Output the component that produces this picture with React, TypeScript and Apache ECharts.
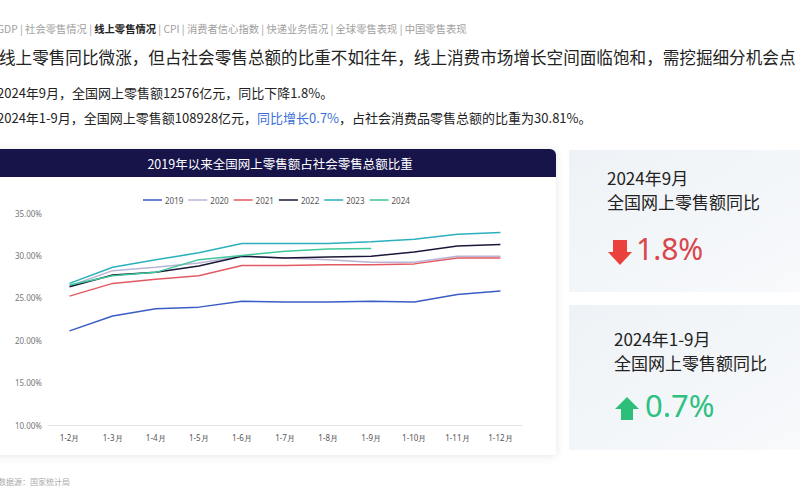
import React, { useEffect, useRef } from "react";
import * as echarts from "echarts";

const categories = ["1-2月", "1-3月", "1-4月", "1-5月", "1-6月", "1-7月", "1-8月", "1-9月", "1-10月", "1-11月", "1-12月"];
const s2019 = [21.1, 22.85, 23.7, 23.9, 24.6, 24.5, 24.5, 24.6, 24.5, 25.4, 25.8];
const s2020 = [26.4, 28.2, 28.6, 29.1, 29.9, 29.7, 29.5, 29.2, 29.2, 29.9, 29.9];
const s2021 = [25.2, 26.7, 27.2, 27.6, 28.8, 28.8, 28.9, 28.9, 29.0, 29.7, 29.7];
const s2022 = [26.3, 27.7, 28.0, 28.75, 29.9, 29.7, 29.8, 29.9, 30.4, 31.1, 31.3];
const s2023 = [26.7, 28.6, 29.5, 30.3, 31.4, 31.4, 31.4, 31.6, 31.9, 32.5, 32.7];
const s2024 = [26.5, 27.6, 28.0, 29.5, 30.0, 30.5, 30.75, 30.81];
const seriesNames = ["2019", "2020", "2021", "2022", "2023", "2024"];
const seriesColors = ["#3b5cc4", "#b9b3d6", "#e35a62", "#1a1838", "#2bb0bd", "#3ec79b"];

const CJK = "'Noto Sans CJK SC', 'Noto Sans', sans-serif";

export default function App() {
  const ref = useRef<HTMLDivElement>(null);
  useEffect(() => {
    document.body.style.margin = "0";
    const chart = echarts.init(ref.current!, null, { renderer: "svg" });
    const data = [s2019, s2020, s2021, s2022, s2023, s2024];
    chart.setOption({
      animation: false,
      backgroundColor: "#ffffff",
      graphic: [
        {
          type: "text", left: -3, top: 23, z: 0,
          style: {
            text: "{a|GDP | 社会零售情况 | }{b|线上零售情况}{a| | CPI | 消费者信心指数 | 快递业务情况 | 全球零售表现 | 中国零售表现}",
            rich: {
              a: { fontSize: 10.3, fill: "#a0a0a0", fontFamily: CJK },
              b: { fontSize: 10.3, fill: "#222", fontWeight: "bold", fontFamily: CJK },
            },
          },
        },
        {
          type: "text", left: -1, top: 49, z: 0,
          style: { text: "线上零售同比微涨，但占社会零售总额的比重不如往年，线上消费市场增长空间面临饱和，需挖掘细分机会点", fontSize: 16.6, fill: "#222", fontFamily: CJK },
        },
        {
          type: "text", left: -3, top: 86, z: 0,
          style: { text: "2024年9月，全国网上零售额12576亿元，同比下降1.8%。", fontSize: 13, fill: "#222", fontFamily: CJK },
        },
        {
          type: "text", left: -3, top: 111, z: 0,
          style: {
            text: "{a|2024年1-9月，全国网上零售额108928亿元，}{b|同比增长0.7%}{a|，占社会消费品零售总额的比重为30.81%。}",
            rich: {
              a: { fontSize: 13, fill: "#222", fontFamily: CJK },
              b: { fontSize: 13, fill: "#3a6fd8", fontFamily: CJK },
            },
          },
        },
        {
          type: "rect", z: 0,
          shape: { x: -10, y: 149, width: 566, height: 306, r: [0, 6, 0, 0] },
          style: { fill: "#ffffff", shadowBlur: 8, shadowColor: "rgba(0,0,0,0.10)", shadowOffsetY: 1 },
        },
        {
          type: "rect", z: 0,
          shape: { x: -10, y: 149, width: 566, height: 28, r: [0, 6, 0, 0] },
          style: { fill: "#17144a" },
        },
        {
          type: "text", x: 280, y: 163, z: 1,
          style: { text: "2019年以来全国网上零售额占社会零售总额比重", fontSize: 12.5, fill: "#ffffff", fontFamily: CJK, align: "center", verticalAlign: "middle" },
        },
        {
          type: "rect", z: 0,
          shape: { x: 569, y: 150, width: 240, height: 142 },
          style: {
            fill: new echarts.graphic.LinearGradient(0, 0, 1, 1, [
              { offset: 0, color: "#eef2f6" },
              { offset: 1, color: "#f8fafc" },
            ]),
          },
        },
        {
          type: "rect", z: 0,
          shape: { x: 569, y: 305, width: 240, height: 145 },
          style: {
            fill: new echarts.graphic.LinearGradient(0, 0, 1, 1, [
              { offset: 0, color: "#eef2f6" },
              { offset: 1, color: "#f8fafc" },
            ]),
          },
        },
        {
          type: "text", left: 607, top: 169, z: 1,
          style: { text: "2024年9月", fontSize: 17, fill: "#222", fontFamily: CJK },
        },
        {
          type: "text", left: 607, top: 193, z: 1,
          style: { text: "全国网上零售额同比", fontSize: 17, fill: "#222", fontFamily: CJK },
        },
        {
          type: "polygon", z: 1,
          shape: { points: [[613, 240], [627, 240], [627, 252], [632, 252], [620, 265], [608, 252], [613, 252]] },
          style: { fill: "#ea413c" },
        },
        {
          type: "text", left: 636, top: 233, z: 1,
          style: { text: "1.8%", fontSize: 30, fill: "#d9464c", fontFamily: "'Noto Sans', sans-serif" },
        },
        {
          type: "text", left: 614, top: 330, z: 1,
          style: { text: "2024年1-9月", fontSize: 17, fill: "#222", fontFamily: CJK },
        },
        {
          type: "text", left: 614, top: 354, z: 1,
          style: { text: "全国网上零售额同比", fontSize: 17, fill: "#222", fontFamily: CJK },
        },
        {
          type: "polygon", z: 1,
          shape: { points: [[627, 397], [639, 409], [633, 409], [633, 420], [621, 420], [621, 409], [615, 409]] },
          style: { fill: "#2dbf7a" },
        },
        {
          type: "text", left: 645, top: 389, z: 1,
          style: { text: "0.7%", fontSize: 31, fill: "#2fc182", fontFamily: "'Noto Sans', sans-serif" },
        },
        {
          type: "text", left: -2, top: 477, z: 1,
          style: { text: "数据源：国家统计局", fontSize: 8, fill: "#aaaaaa", fontFamily: CJK },
        },
      ],
      legend: {
        left: 138, top: 191,
        itemWidth: 19, itemHeight: 8, itemGap: 5,
        icon: "path://M0,3.2 L20,3.2 L20,4.8 L0,4.8 Z",
        textStyle: { fontSize: 8, color: "#555", fontFamily: "'Noto Sans', sans-serif", padding: [0, 0, 0, -2] },
        data: seriesNames,
      },
      grid: { left: 48, right: 278, top: 213, height: 212, containLabel: false },
      xAxis: {
        type: "category",
        data: categories,
        boundaryGap: true,
        axisLine: { lineStyle: { color: "#e6e6e6" } },
        axisTick: { show: false },
        axisLabel: { fontSize: 8, color: "#555", margin: 8, fontFamily: "'Noto Sans', sans-serif" },
      },
      yAxis: {
        type: "value",
        min: 10, max: 35, interval: 5,
        axisLine: { show: false },
        axisTick: { show: false },
        splitLine: { show: false },
        axisLabel: { fontSize: 8, color: "#777", margin: 6, formatter: (v: number) => v.toFixed(2) + "%", fontFamily: "'Noto Sans', sans-serif" },
      },
      series: seriesNames.map((n, i) => ({
        name: n,
        type: "line",
        data: data[i],
        showSymbol: false,
        symbol: "none",
        z: 3,
        lineStyle: { width: 1.5, color: seriesColors[i] },
        itemStyle: { color: seriesColors[i] },
      })),
    });
    return () => chart.dispose();
  }, []);
  return <div ref={ref} style={{ width: 800, height: 500 }} />;
}
